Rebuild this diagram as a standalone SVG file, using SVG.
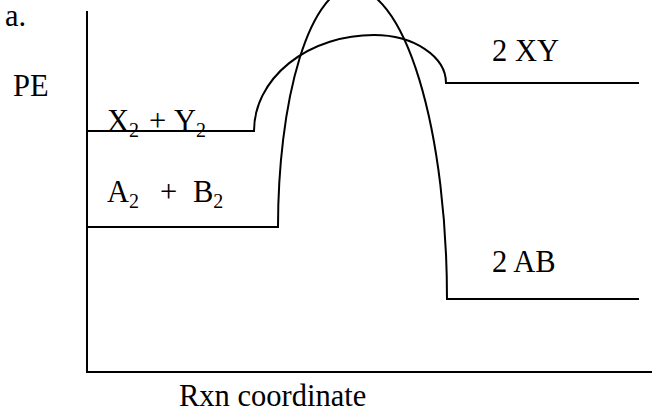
<svg xmlns="http://www.w3.org/2000/svg" width="659" height="414" viewBox="0 0 659 414">
<style>
  .ln { fill: none; stroke: #000; stroke-width: 2; }
  .t { font-family: "Liberation Serif", "Times New Roman", serif; font-size: 30.5px; fill: #000; }
  .sub { font-size: 20px; }
</style>
<rect width="659" height="414" fill="#fff"/>
<g id="axes">
  <path class="ln" d="M87,11 V372 H652"/>
</g>
<g id="labels">
  <text class="t" x="5" y="26">a.</text>
  <text class="t" x="13" y="96">PE</text>
  <text class="t" x="179" y="406">Rxn coordinate</text>
</g>
<g id="reactants-XY">
  <text class="t" x="107" y="131">X<tspan class="sub" dy="6">2</tspan><tspan x="149" dy="-6">+</tspan><tspan x="174">Y</tspan><tspan class="sub" dy="6">2</tspan></text>
</g>
<g id="reactants-AB">
  <text class="t" x="107" y="202">A<tspan class="sub" dy="6">2</tspan><tspan x="160" dy="-6">+</tspan><tspan x="193">B</tspan><tspan class="sub" dy="6">2</tspan></text>
</g>
<g id="product-XY">
  <text class="t" x="492" y="61">2 XY</text>
</g>
<g id="product-AB">
  <text class="t" x="492" y="272">2 AB</text>
</g>
<g id="connectors">
  <path id="curve-XY" class="ln" d="M87,131 H254 A120,96 0 0 1 374,35 A72,48 0 0 1 446,83 H639"/>
  <path id="curve-AB" class="ln" d="M87,227 H278 A74,239 0 0 1 352,-12 A95,311 0 0 1 447,299 H639"/>
</g>
</svg>
